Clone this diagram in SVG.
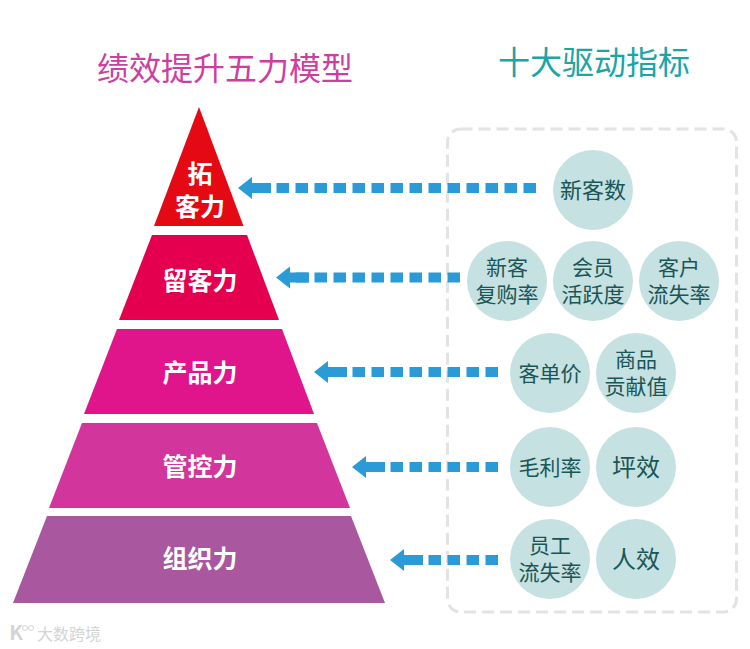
<svg xmlns="http://www.w3.org/2000/svg" width="750" height="649" viewBox="0 0 750 649">
<style>
text{font-family:"Noto Sans CJK SC","Liberation Sans",sans-serif;text-anchor:middle}
.t{font-size:32px}
.p{font-size:25px;font-weight:700;fill:#fff}
.c{font-size:21px;fill:#1a5656}
.b{fill:#c5e1e1}
.d{stroke:#2a9bd6;stroke-width:10;stroke-dasharray:12.5 6.5;fill:none}
.h{fill:#2a9bd6}
</style>
<rect width="750" height="649" fill="#fff"/>
<text class="t" x="225" y="80" fill="#cc3fa0">绩效提升五力模型</text>
<text class="t" x="594" y="74" fill="#1ba5a5">十大驱动指标</text>
<rect id="frame" x="447.500" y="129" width="289" height="483" rx="13" fill="none" stroke="#e3e3e3" stroke-width="3" stroke-dasharray="12 6"/>
<g id="tier1"><polygon points="199,107 243.500,226 154,226" fill="#e50914"/><text class="p"><tspan x="200" y="183">拓</tspan><tspan x="200" y="216">客力</tspan></text></g>
<g id="tier2"><polygon points="152,235 247,235 279,320 119,320" fill="#e4004f"/><text class="p" x="200" y="290">留客力</text></g>
<g id="tier3"><polygon points="117,329 282,329 314,414 84,414" fill="#e0148b"/><text class="p" x="200" y="382">产品力</text></g>
<g id="tier4"><polygon points="82,423 317,423 350,508 49,508" fill="#d2369c"/><text class="p" x="200" y="476">管控力</text></g>
<g id="tier5"><polygon points="47,516 351,516 385,603 13,603" fill="#a9579f"/><text class="p" x="200" y="568">组织力</text></g>
<g id="connectors">
<line class="d" x1="536" y1="188" x2="250" y2="188"/><polygon class="h" points="238,188 252,177 252,183 271,183 271,193 252,193 252,199"/>
<line class="d" x1="460" y1="277.500" x2="290" y2="277.500"/><polygon class="h" points="276,277.500 290,266.500 290,272.500 309,272.500 309,282.500 290,282.500 290,288.500"/>
<line class="d" x1="498" y1="372" x2="328" y2="372"/><polygon class="h" points="314,372 328,361 328,367 347,367 347,377 328,377 328,383"/>
<line class="d" x1="498" y1="467" x2="366" y2="467"/><polygon class="h" points="352,467 366,456 366,462 385,462 385,472 366,472 366,478"/>
<line class="d" x1="498" y1="560" x2="404" y2="560"/><polygon class="h" points="390,560 404,549 404,555 423,555 423,565 404,565 404,571"/>
</g>
<g id="n1"><circle class="b" cx="593" cy="190" r="40"/><text class="c" style="font-size:22px" x="593" y="198">新客数</text></g>
<g id="n2"><circle class="b" cx="507" cy="281" r="40"/><text class="c"><tspan x="507" y="275">新客</tspan><tspan x="507" y="302">复购率</tspan></text></g>
<g id="n3"><circle class="b" cx="593" cy="281" r="40"/><text class="c"><tspan x="593" y="275">会员</tspan><tspan x="593" y="302">活跃度</tspan></text></g>
<g id="n4"><circle class="b" cx="679" cy="281" r="40"/><text class="c"><tspan x="679" y="275">客户</tspan><tspan x="679" y="302">流失率</tspan></text></g>
<g id="n5"><circle class="b" cx="550" cy="373" r="40"/><text class="c" x="550" y="381">客单价</text></g>
<g id="n6"><circle class="b" cx="636" cy="373" r="40"/><text class="c"><tspan x="636" y="367">商品</tspan><tspan x="636" y="394">贡献值</tspan></text></g>
<g id="n7"><circle class="b" cx="550" cy="467" r="40"/><text class="c" x="550" y="475">毛利率</text></g>
<g id="n8"><circle class="b" cx="636" cy="467" r="40"/><text class="c" style="font-size:24px" x="636" y="476">坪效</text></g>
<g id="n9"><circle class="b" cx="550" cy="559" r="40"/><text class="c"><tspan x="550" y="553">员工</tspan><tspan x="550" y="580">流失率</tspan></text></g>
<g id="n10"><circle class="b" cx="636" cy="559" r="40"/><text class="c" style="font-size:24px" x="636" y="568">人效</text></g>
<g id="watermark" fill="#d4d4d4"><text x="16" y="640" font-size="20" font-weight="700" font-family="Liberation Sans">K</text><circle cx="25" cy="628" r="2.500" fill="none" stroke="#d4d4d4"/><circle cx="31" cy="628" r="2.500" fill="none" stroke="#d4d4d4"/><text x="69" y="640" font-size="16">大数跨境</text></g>
</svg>
